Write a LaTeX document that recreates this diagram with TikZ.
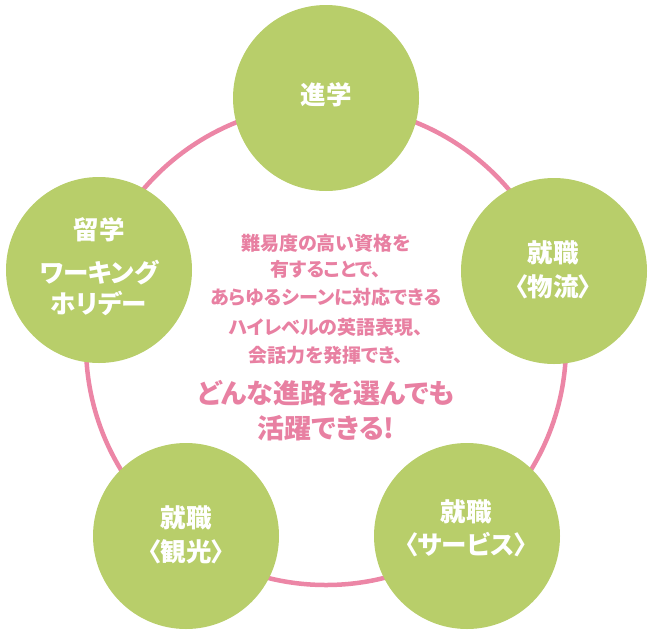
\documentclass[tikz,border=0pt]{standalone}
\usepackage{fontspec}
\setmainfont{Noto Sans CJK JP}[BoldFont={Noto Sans CJK JP Black}]
\newfontfamily\jpprop{Noto Sans CJK JP}[BoldFont={Noto Sans CJK JP Black},RawFeature=+palt]
\definecolor{leaf}{RGB}{184,206,106}
\definecolor{ringpink}{RGB}{236,134,166}
\definecolor{rose}{RGB}{232,128,162}
\begin{document}
\begin{tikzpicture}[x=1pt,y=-1pt,
  bubble/.style={circle,fill=leaf,draw=none,minimum size=186pt,inner sep=0pt},
  wlabel/.style={text=white,inner sep=0pt,font=\bfseries\jpprop\fontsize{25.5}{28}\selectfont},
  ptext/.style={text=rose,inner sep=0pt,font=\bfseries\jpprop\fontsize{19}{22}\selectfont},
  pbig/.style={text=rose,inner sep=0pt,font=\bfseries\jpprop\fontsize{27}{30}\selectfont}]
\useasboundingbox (0,0) rectangle (650,635);
\node[circle,draw=ringpink,line width=4.5pt,minimum size=480pt,inner sep=0pt] (ring) at (326,345) {};
\node[bubble] (top) at (326,98) {};
\node[bubble] (left) at (99,270) {};
\node[bubble] (right) at (554,271) {};
\node[bubble] (bl) at (186,536) {};
\node[bubble] (br) at (467,536) {};
% white labels
\node[wlabel] (topA) at (326,95) {進学};
\node[wlabel] (leftA) at (99,230) {留学};
\node[wlabel] (leftB) at (99,273) {ワーキング};
\node[wlabel] (leftC) at (99,303) {ホリデー};
\node[wlabel] (rightA) at (553,253) {就職};
\node[wlabel] (rightB) at (553,287) {〈物流〉};
\node[wlabel] (blA) at (186,518) {就職};
\node[wlabel] (blB) at (186,552) {〈観光〉};
\node[wlabel] (brA) at (466,512) {就職};
\node[wlabel] (brB) at (466,545) {〈サービス〉};
% centre message
\node[ptext] (t1) at (326,243) {難易度の高い資格を};
\node[ptext] (t2) at (326,269) {有することで、};
\node[ptext] (t3) at (326,297) {あらゆるシーンに対応できる};
\node[ptext] (t4) at (326,327) {ハイレベルの英語表現、};
\node[ptext] (t5) at (326,355) {会話力を発揮でき、};
\node[pbig] (t6) at (326,393) {どんな進路を選んでも};
\node[pbig] (t7) at (326,428) {活躍できる!};
\end{tikzpicture}
\end{document}
